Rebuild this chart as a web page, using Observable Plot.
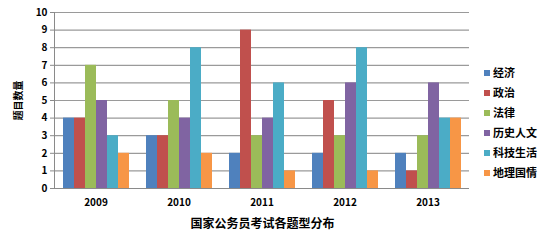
<!DOCTYPE html>
<html><head><meta charset="utf-8">
<script src="https://cdn.jsdelivr.net/npm/d3@7"></script>
<script src="https://cdn.jsdelivr.net/npm/@observablehq/plot@0.6"></script>
<style>
body{margin:0;background:#fff;}
#wrap{position:relative;width:554px;height:242px;font-family:"Noto Sans CJK SC",sans-serif;font-weight:bold;}
#legend{position:absolute;left:484px;top:63px;font-size:11px;}
#legend div{height:20px;line-height:18px;white-space:nowrap;}
#legend span.sw{display:inline-block;width:6px;height:6px;margin-right:3px;vertical-align:middle;position:relative;top:-1px;}
#title{position:absolute;left:0;width:525px;top:214px;text-align:center;font-size:12px;}
</style></head>
<body><div id="wrap"><div id="chart"></div><div id="legend"></div><div id="title"></div></div>
<script>
const years = ["2009","2010","2011","2012","2013"];
const series = ["经济","政治","法律","历史人文","科技生活","地理国情"];
const colors = ["#4F81BD","#C0504D","#9BBB59","#8064A2","#4BACC6","#F79646"];
const economy   = [4,3,2,2,2];
const politics  = [4,3,9,5,1];
const law       = [7,5,3,3,3];
const history   = [5,4,4,6,6];
const tech      = [3,8,6,8,4];
const geography = [2,2,1,1,4];
const yTicks = [0,1,2,3,4,5,6,7,8,9,10];
const yLabel = "题目数量";
const chartTitle = "国家公务员考试各题型分布";

const valuesBySeries = [economy, politics, law, history, tech, geography];
const data = [];
years.forEach((yr, i) => series.forEach((s, j) => data.push({year: yr, series: s, value: valuesBySeries[j][i]})));

const plot = Plot.plot({
  width: 554, height: 242,
  marginLeft: 53, marginRight: 84, marginTop: 12, marginBottom: 54,
  style: {fontFamily: '"Noto Sans CJK SC", sans-serif', fontWeight: "bold", fontSize: "10px", color: "#000"},
  fx: {domain: years, padding: 0, label: null, axis: null},
  x: {domain: series, paddingInner: 0, paddingOuter: 0.73, axis: null},
  y: {domain: [0, 10], label: null},
  color: {domain: series, range: colors},
  marks: [
    Plot.gridY(yTicks, {stroke: "#9a9a9a", strokeOpacity: 1, strokeWidth: 1.2}),
    Plot.barY(data, {fx: "year", x: "series", y: "value", fill: "series"}),
    Plot.ruleY([0], {stroke: "#8a8a8a"}),
    Plot.axisY(yTicks, {tickSize: 4, tickPadding: 3, stroke: "#8a8a8a", label: yLabel, labelAnchor: "center", labelArrow: "none", labelOffset: 40, fontSize: 10}),
    Plot.axisFx({anchor: "bottom", tickSize: 0, tickPadding: 10, label: null, fontSize: 10}),
    Plot.frame({anchor: "left", facetAnchor: "left", stroke: "#8a8a8a", strokeOpacity: 1})
  ]
});
document.getElementById("chart").appendChild(plot);

const lg = document.getElementById("legend");
series.forEach((s, i) => {
  const d = document.createElement("div");
  d.innerHTML = `<span class="sw" style="background:${colors[i]}"></span>${s}`;
  lg.appendChild(d);
});
document.getElementById("title").textContent = chartTitle;
</script></body></html>
